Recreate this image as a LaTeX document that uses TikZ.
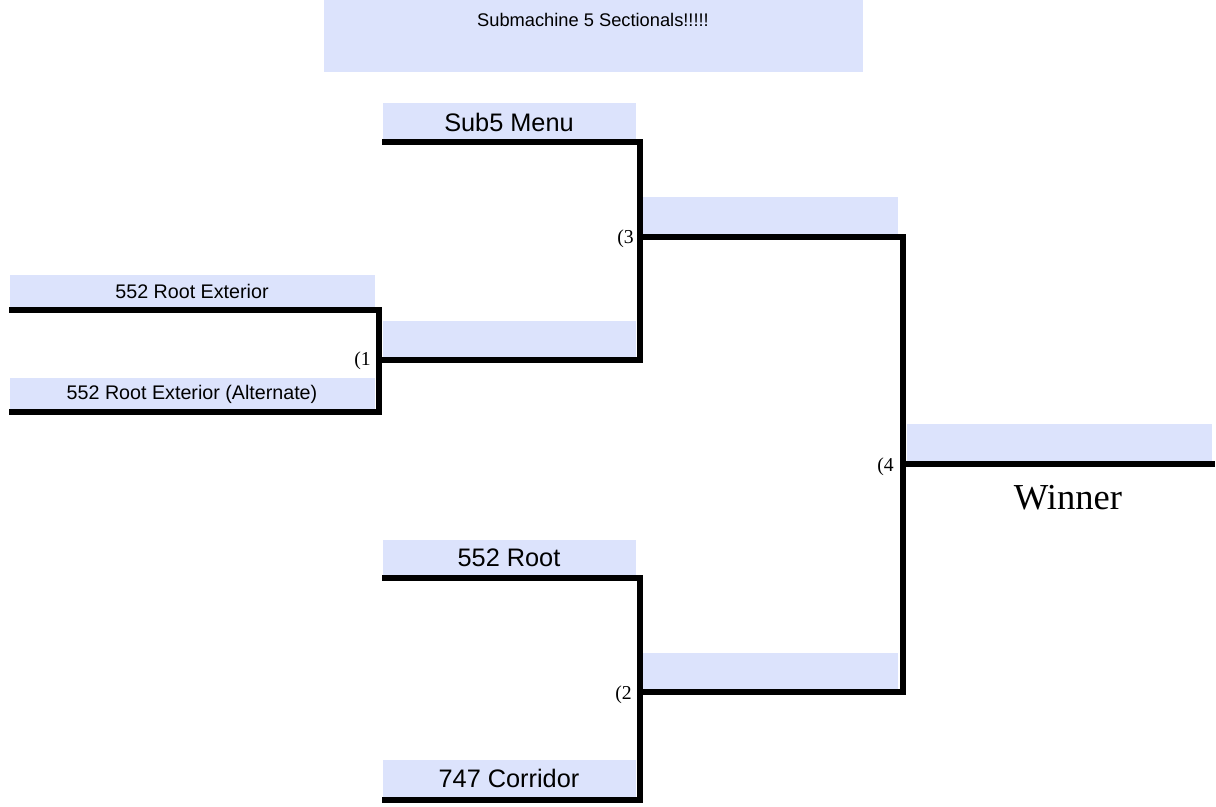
\documentclass[tikz,border=0pt]{standalone}
\usepackage{fontspec}
\setsansfont{Liberation Sans}
\setmainfont{Liberation Serif}
\definecolor{SlotFill}{HTML}{DCE3FC}
\tikzset{
  slot/.style = {fill = SlotFill, draw = none},
  bar/.style = {line width = 3.6pt, line cap = rect, line join = miter, black},
  seed/.style = {font = \fontsize{14}{14}\selectfont, anchor = east, inner sep = 0pt},
}
\begin{document}
\begin{tikzpicture}[x = 0.025cm, y = -0.025cm]
    \useasboundingbox (0, 0) rectangle (1216, 807);

    % title
    \fill[slot] (324, 0) rectangle (863, 72);
    \node[font = \sffamily\fontsize{13}{13}\selectfont] (title) at (593, 20) {Submachine 5 Sectionals!!!!!};

    % name slots
    \fill[slot] (383, 103) rectangle (636, 140);
    \fill[slot] (10, 275) rectangle (375, 307);
    \fill[slot] (10, 378) rectangle (375, 410);
    \fill[slot] (383, 321) rectangle (636, 358);
    \fill[slot] (643, 197) rectangle (898, 234);
    \fill[slot] (383, 540) rectangle (636, 576);
    \fill[slot] (383, 760) rectangle (636, 797);
    \fill[slot] (643, 653) rectangle (898, 690);
    \fill[slot] (907, 424) rectangle (1212, 461);

    \node[font = \sffamily\fontsize{18}{18}\selectfont] (sub) at (509, 122) {Sub5 Menu};
    \node[font = \sffamily\fontsize{14}{14}\selectfont] (ext) at (192, 291) {552 Root Exterior};
    \node[font = \sffamily\fontsize{14}{14}\selectfont] (alt) at (192, 394) {552 Root Exterior (Alternate)};
    \node[font = \sffamily\fontsize{18}{18}\selectfont] (root) at (509, 558) {552 Root};
    \node[font = \sffamily\fontsize{18}{18}\selectfont] (cor) at (509, 778) {747 Corridor};
    \node[font = \fontsize{26}{26}\selectfont] (win) at (1068, 498) {Winner};

    % bracket lines
    \draw[bar] (12, 310) -- (379, 310) -- (379, 412) -- (12, 412);
    \draw[bar] (379, 360) -- (640, 360);
    \draw[bar] (385, 142) -- (640, 142) -- (640, 360);
    \draw[bar] (640, 237) -- (903, 237) -- (903, 692) -- (640, 692);
    \draw[bar] (385, 578) -- (640, 578) -- (640, 800) -- (385, 800);
    \draw[bar] (903, 464) -- (1212, 464);

    % seeds
    \node[seed] (s1) at (371, 361) {(1};
    \node[seed] (s3) at (634, 239) {(3};
    \node[seed] (s2) at (632, 695) {(2};
    \node[seed] (s4) at (894, 467) {(4};
\end{tikzpicture}
\end{document}
